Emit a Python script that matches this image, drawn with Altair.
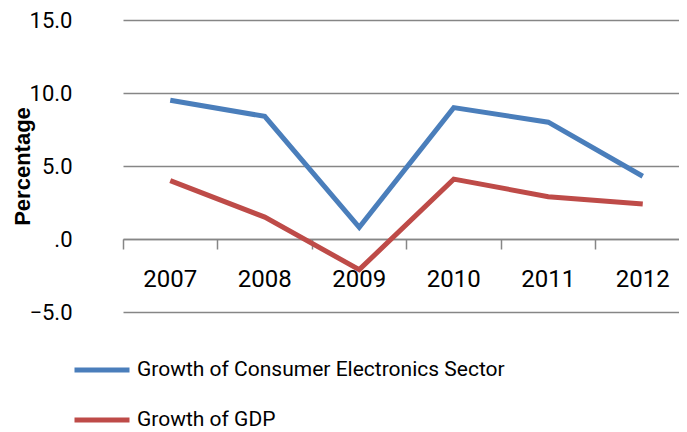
import altair as alt
import pandas as pd

years = ["2007", "2008", "2009", "2010", "2011", "2012"]
ce_growth = [9.5, 8.4, 0.8, 9.0, 8.0, 4.3]
gdp_growth = [4.0, 1.5, -2.1, 4.1, 2.9, 2.4]
series_names = ["Growth of Consumer Electronics Sector", "Growth of GDP"]
series_colors = ["#4A7EBB", "#BE4B48"]
y_ticks = [-5, 0, 5, 10, 15]

rows = []
for name, vals in zip(series_names, [ce_growth, gdp_growth]):
    for yr, v in zip(years, vals):
        rows.append({"year": yr, "value": v, "series": name})
df = pd.DataFrame(rows)

FONT = "Roboto, Liberation Sans, sans-serif"
GRID = "#868686"
W, H = 556, 292

chart = (
    alt.Chart(df)
    .mark_line(strokeWidth=5)
    .encode(
        x=alt.X(
            "year:O",
            bandPosition=0.5,
            scale=alt.Scale(type="band", paddingInner=0, paddingOuter=0, range=[0, 567]),
            axis=alt.Axis(
                title=None,
                orient="bottom",
                offset=-H * 5 / 20,
                bandPosition=0,
                labelAngle=0,
                labelFont=FONT,
                labelFontSize=24,
                labelColor="#000000",
                labelPadding=18,
                tickColor=GRID,
                tickWidth=1.5,
                tickSize=10,
                domainColor=GRID,
                domainWidth=1.5,
                grid=False,
            ),
        ),
        y=alt.Y(
            "value:Q",
            scale=alt.Scale(domain=[-5, 15], nice=False, zero=False),
            axis=alt.Axis(
                title="Percentage",
                values=y_ticks,
                labelExpr="datum.value == 0 ? '.0' : format(datum.value, '.1f')",
                labelFont=FONT,
                labelFontSize=22,
                labelColor="#000000",
                labelPadding=51,
                ticks=False,
                domain=False,
                grid=True,
                gridColor=GRID,
                gridWidth=1.5,
                titleFont="Liberation Sans",
                titleFontWeight="bold",
                titleFontSize=22,
                titleColor="#000000",
                titleX=-101,
                titleY=H / 2,
                titleAngle=270,
                titleAlign="center",
                titleBaseline="middle",
            ),
        ),
        color=alt.Color(
            "series:N",
            scale=alt.Scale(domain=series_names, range=series_colors),
            sort=series_names,
            legend=alt.Legend(
                title=None,
                orient="none",
                legendX=-51,
                legendY=335,
                direction="vertical",
                symbolType="stroke",
                symbolSize=3025,
                symbolStrokeWidth=5,
                labelFont=FONT,
                labelFontSize=21,
                labelColor="#000000",
                labelLimit=600,
                labelOffset=5,
                clipHeight=30,
                rowPadding=20,
                padding=0,
            ),
        ),
    )
    .properties(
        width=W,
        height=H,
        autosize=alt.AutoSizeParams(type="none"),
        padding={"left": 115, "top": 12, "right": 0, "bottom": 120},
    )
    .configure_view(stroke=None)
)

chart.save("out.html", embed_options={"renderer": "svg", "actions": False})
